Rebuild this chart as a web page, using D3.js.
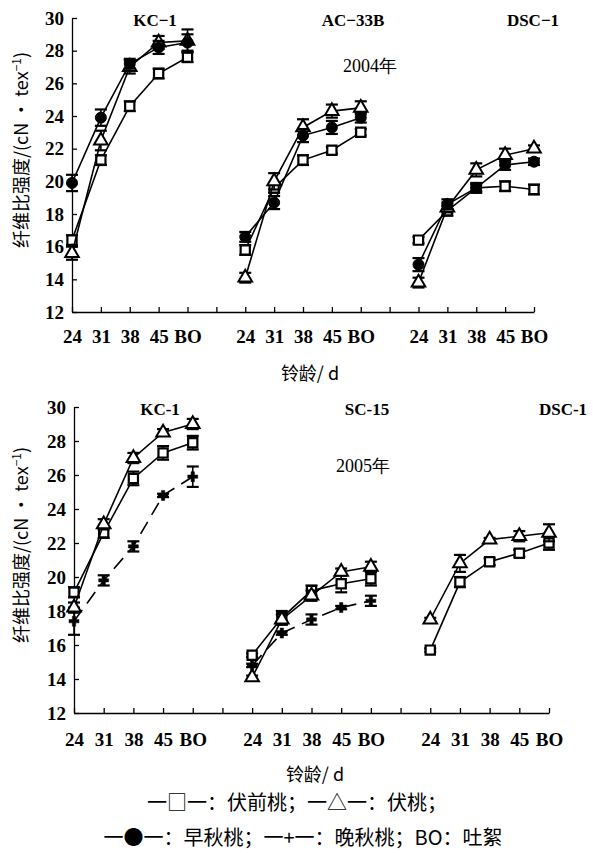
<!DOCTYPE html>
<html>
<head>
<meta charset="utf-8">
<script src="https://cdn.jsdelivr.net/npm/d3@7"></script>
<style>
  body { margin: 0; background: #fff; }
  svg { display: block; }
  .tick text { font-family: "Liberation Serif", serif; font-weight: bold; }
</style>
</head>
<body>
<div id="chart"></div>
<script>
// boll ages on the x axis, three cultivars per year
var ages = ["24", "31", "38", "45", "BO"];
var cultivars2004 = ["KC\u22121", "AC\u221233B", "DSC\u22121"];
var cultivars2005 = ["KC-1", "SC-15", "DSC-1"];
var yTicks = [12, 14, 16, 18, 20, 22, 24, 26, 28, 30];

// 2004 fibre strength (cN/tex): pre-summer, summer, early autumn bolls
var pre2004 = [[16.4, 21.3, 24.6, 26.6, 27.6], [15.8, 19.6, 21.3, 21.9, 23.0], [16.4, 18.2, 19.6, 19.7, 19.5]];
var preErr2004 = [[0.3, 0.3, 0.3, 0.3, 0.3], [0.3, 0.3, 0.3, 0.2, 0.2], [0.2, 0.3, 0.3, 0.3, 0.3]];
var sum2004 = [[15.6, 22.5, 27.0, 28.5, 28.6], [14.1, 20.0, 23.3, 24.3, 24.5], [13.8, 18.4, 20.7, 21.6, 22.0]];
var sumErr2004 = [[0.4, 0.6, 0.4, 0.4, 0.7], [0.3, 0.5, 0.5, 0.4, 0.4], [0.3, 0.3, 0.4, 0.4, 0.2]];
var early2004 = [[19.9, 23.9, 27.2, 28.2, 28.5], [16.6, 18.7, 22.8, 23.3, 23.9], [14.9, 18.6, 19.6, 21.0, 21.2]];
var earlyErr2004 = [[0.5, 0.5, 0.3, 0.4, 0.5], [0.3, 0.4, 0.4, 0.4, 0.3], [0.4, 0.3, 0.2, 0.3, 0.2]];

// 2005: pre-summer, summer, late autumn bolls
var pre2005 = [[19.1, 22.6, 25.8, 27.3, 27.9], [15.4, 17.6, 19.2, 19.6, 19.9], [15.7, 19.7, 20.9, 21.4, 22.0]];
var preErr2005 = [[0.3, 0.3, 0.4, 0.4, 0.4], [0.1, 0.4, 0.3, 0.5, 0.4], [0.1, 0.3, 0.2, 0.2, 0.4]];
var sum2005 = [[18.2, 23.1, 27.0, 28.5, 29.0], [14.1, 17.5, 18.9, 20.3, 20.6], [17.5, 20.8, 22.2, 22.4, 22.6]];
var sumErr2005 = [[0.3, 0.3, 0.3, 0.2, 0.3], [0.1, 0.3, 0.3, 0.2, 0.3], [0.1, 0.5, 0.1, 0.3, 0.5]];
var late2005 = [[17.4, 19.8, 21.8, 24.8, 25.9], [14.8, 16.7, 17.5, 18.2, 18.6], null];
var lateErr2005 = [[0.8, 0.3, 0.3, 0.1, 0.6], [0.1, 0.1, 0.3, 0.1, 0.3], null];

var W = 593, H = 853;
var svg = d3.select("#chart").append("svg").attr("width", W).attr("height", H);

var serif = "'Liberation Serif', 'DejaVu Serif', serif";
var cjk = "'Noto Sans CJK SC', sans-serif";

// symbols
var sqSym = d3.symbol().type(d3.symbolSquare).size(85);
var triSym = d3.symbol().type(d3.symbolTriangle).size(80);
var dotSym = d3.symbol().type(d3.symbolCircle).size(95);
var plusSym = d3.symbol().type(d3.symbolCross).size(55);

function drawPanel(opt) {
  var x = d3.scaleLinear().domain([0, 16]).range([opt.left, opt.right]);
  var y = d3.scaleLinear().domain([12, 30]).range([opt.bottom, opt.top]);
  var g = svg.append("g");

  // axes, ticks pointing inward
  var xAxis = d3.axisBottom(x).tickValues(d3.range(17)).tickSize(-5).tickSizeOuter(0)
    .tickPadding(opt.xPad)
    .tickFormat(function(i) { return i % 6 === 5 ? "" : ages[i % 6]; });
  var gx = g.append("g").attr("transform", "translate(0," + opt.bottom + ")").call(xAxis);
  gx.selectAll("text").style("font-size", "19px").attr("fill", "#000");
  gx.selectAll("line, path").attr("stroke", "#000").attr("stroke-width", 1.3);

  var yAxis = d3.axisLeft(y).tickValues(yTicks).tickSize(-5).tickSizeOuter(0).tickPadding(8);
  var gy = g.append("g").attr("transform", "translate(" + opt.left + ",0)").call(yAxis);
  gy.selectAll("text").style("font-size", "19px").attr("fill", "#000");
  gy.selectAll("line, path").attr("stroke", "#000").attr("stroke-width", 1.3);

  // y title
  var yt = g.append("text")
    .attr("transform", "translate(" + 28 + "," + opt.yTitleY + ") rotate(-90)")
    .attr("text-anchor", "middle")
    .style("font-family", cjk).style("font-size", "18px");
  yt.append("tspan").text("纤维比强度/(cN · tex");
  yt.append("tspan").attr("dy", -7).style("font-size", "12px").text("−1");
  yt.append("tspan").attr("dy", 7).text(")");

  // x title
  g.append("text").attr("x", opt.xTitleX).attr("y", opt.bottom + 68)
    .attr("text-anchor", "middle")
    .style("font-family", cjk).style("font-size", "18px").text("铃龄/ d");

  // cultivar names + year
  opt.names.forEach(function(n, k) {
    g.append("text").attr("x", opt.nameX[k]).attr("y", opt.top + 8)
      .attr("text-anchor", "middle")
      .style("font-family", serif).style("font-weight", "bold").style("font-size", "17px")
      .text(n);
  });
  g.append("text").attr("x", opt.yearX).attr("y", opt.yearY)
    .attr("text-anchor", "middle")
    .style("font-family", serif).style("font-size", "18px").text(opt.year);

  var line = d3.line().x(function(d) { return x(d.i); }).y(function(d) { return y(d.v); });

  opt.series.forEach(function(s) {
    s.vals.forEach(function(vals, k) {
      if (!vals) return;
      var pts = vals.map(function(v, j) { return { i: k * 6 + j, v: v, e: s.err[k][j] }; });
      g.append("path").datum(pts).attr("d", line)
        .attr("fill", "none").attr("stroke", "#000").attr("stroke-width", 1.6)
        .attr("stroke-dasharray", s.dash || null);
      var eb = g.selectAll(null).data(pts).enter().append("g");
      eb.append("line")
        .attr("x1", function(d) { return x(d.i); }).attr("x2", function(d) { return x(d.i); })
        .attr("y1", function(d) { return y(d.v - d.e); }).attr("y2", function(d) { return y(d.v + d.e); })
        .attr("stroke", "#000").attr("stroke-width", 1.6);
      [-1, 1].forEach(function(sg) {
        eb.append("line")
          .attr("x1", function(d) { return x(d.i) - 6; }).attr("x2", function(d) { return x(d.i) + 6; })
          .attr("y1", function(d) { return y(d.v + sg * d.e); }).attr("y2", function(d) { return y(d.v + sg * d.e); })
          .attr("stroke", "#000").attr("stroke-width", 2.2);
      });
      g.selectAll(null).data(pts).enter().append("path")
        .attr("transform", function(d) { return "translate(" + x(d.i) + "," + y(d.v) + ")"; })
        .attr("d", s.sym)
        .attr("fill", s.fill).attr("stroke", "#000").attr("stroke-width", s.sw);
    });
  });
}

drawPanel({
  left: 72, right: 534, top: 18, bottom: 312, xPad: 18,
  yTitleY: 150, xTitleX: 310,
  names: cultivars2004, nameX: [155, 353, 533],
  year: "2004年", yearX: 370, yearY: 72,
  series: [
    { vals: pre2004, err: preErr2004, sym: sqSym, fill: "#fff", sw: 2.2 },
    { vals: sum2004, err: sumErr2004, sym: triSym, fill: "#fff", sw: 2 },
    { vals: early2004, err: earlyErr2004, sym: dotSym, fill: "#000", sw: 1 }
  ]
});

drawPanel({
  left: 74, right: 549, top: 407, bottom: 713, xPad: 20,
  yTitleY: 545, xTitleX: 315,
  names: cultivars2005, nameX: [160, 367, 563],
  year: "2005年", yearX: 363, yearY: 472,
  series: [
    { vals: late2005, err: lateErr2005, sym: plusSym, fill: "#000", sw: 0.5, dash: "14,8" },
    { vals: pre2005, err: preErr2005, sym: sqSym, fill: "#fff", sw: 2.2 },
    { vals: sum2005, err: sumErr2005, sym: triSym, fill: "#fff", sw: 2 }
  ]
});

// legend
var legend1 = "一□一：伏前桃；一△一：伏桃；";
var legend2 = "一●一：早秋桃；一+一：晚秋桃；BO：吐絮";
svg.append("text").attr("x", 297).attr("y", 810).attr("text-anchor", "middle")
  .style("font-family", cjk).style("font-size", "20px").text(legend1);
svg.append("text").attr("x", 303).attr("y", 845).attr("text-anchor", "middle")
  .style("font-family", cjk).style("font-size", "20px").text(legend2);
</script>
</body>
</html>
